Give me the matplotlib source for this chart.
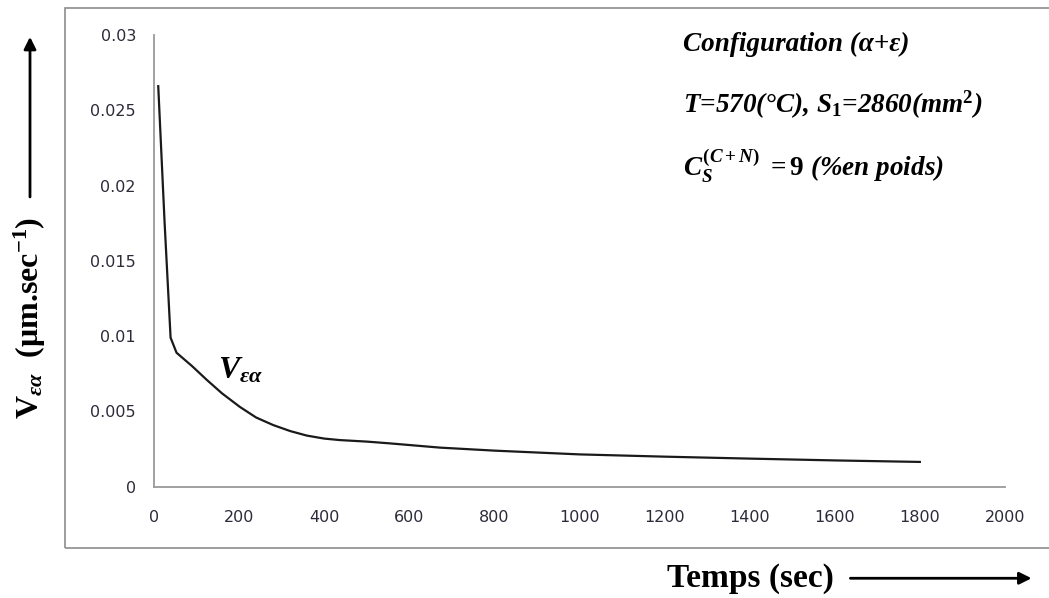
import matplotlib
matplotlib.use('Agg')
import matplotlib.pyplot as plt
from matplotlib.patches import Rectangle, FancyArrowPatch

# values
temps = [10, 25, 39, 53, 90, 124, 160, 202, 240, 280, 320, 359, 400, 437, 500, 555,
         672, 800, 1000, 1200, 1400, 1600, 1800]
vitesse = [0.0266, 0.0175, 0.0099, 0.0089, 0.0080, 0.0071, 0.0062, 0.0053, 0.0046,
           0.0041, 0.0037, 0.0034, 0.0032, 0.0031, 0.0030, 0.00288,
           0.0026, 0.0024, 0.00215, 0.0020, 0.00187, 0.00175, 0.00165]
xticks = list(range(0, 2001, 200))
yticks = [0, 0.005, 0.01, 0.015, 0.02, 0.025, 0.03]
yticklabels = ['0', '0.005', '0.01', '0.015', '0.02', '0.025', '0.03']

plt.rcParams['mathtext.fontset'] = 'custom'
plt.rcParams['mathtext.rm'] = 'Liberation Serif:bold'
plt.rcParams['mathtext.it'] = 'Liberation Serif:bold:italic'
plt.rcParams['mathtext.bf'] = 'Liberation Serif:bold'

fig = plt.figure(figsize=(10.49, 5.98), dpi=100)
ax = fig.add_axes([0.1468, 0.186, 0.8112, 0.7555])

# outer frame like the spreadsheet chart area
fig.patches.append(Rectangle((0.062, 0.0836), 1.2, 0.9030, transform=fig.transFigure,
                             fill=False, edgecolor='#8c8c8c', lw=1.2))

ax.plot(temps, vitesse, color='#1a1a1a', lw=1.6)

ax.set_xlim(0, 2000)
ax.set_ylim(0, 0.03)
ax.set_xticks(xticks)
ax.set_yticks(yticks)
ax.set_yticklabels(yticklabels)
for s in ['top', 'right']:
    ax.spines[s].set_visible(False)
for s in ['left', 'bottom']:
    ax.spines[s].set_color('#9a9a9a')
    ax.spines[s].set_linewidth(1.3)
ax.tick_params(axis='both', length=0, labelsize=11.5, labelcolor='#2b2b3a')
ax.tick_params(axis='x', pad=17)
ax.tick_params(axis='y', pad=13)
for lab in ax.get_xticklabels() + ax.get_yticklabels():
    lab.set_family('DejaVu Sans')

ax.text(150, 0.0072, r'$V_{εα}$', fontsize=23)

fig.text(0.651, 0.925, 'Configuration (α+ε)', family='Liberation Serif', style='italic',
         weight='bold', fontsize=19.5, va='center')
fig.text(0.651, 0.825, r'T=570(°C), S$_{1}$=2860(mm$^{2}$)', family='Liberation Serif',
         style='italic', weight='bold', fontsize=19.5, va='center')
fig.text(0.651, 0.722, r'$C_S^{(C+N)}$ $\mathrm{= 9}$ (%en poids)', family='Liberation Serif',
         style='italic', weight='bold', fontsize=19.5, va='center')

# axis titles with arrows
fig.text(0.0286, 0.468, r'$\mathrm{V}_{εα}$  (μm.sec$^{\mathrm{-1}}$)', rotation=90,
         family='Liberation Serif', weight='bold', fontsize=23, ha='center', va='center')
fig.text(0.715, 0.033, 'Temps (sec)', family='Liberation Serif', weight='bold',
         fontsize=24, ha='center', va='center')
fig.add_artist(FancyArrowPatch((0.0286, 0.666), (0.0286, 0.943),
               transform=fig.transFigure, arrowstyle='-|>', mutation_scale=18,
               color='black', lw=2))
fig.add_artist(FancyArrowPatch((0.808, 0.033), (0.986, 0.033),
               transform=fig.transFigure, arrowstyle='-|>', mutation_scale=18,
               color='black', lw=2))

fig.savefig('out.png', dpi=100)
